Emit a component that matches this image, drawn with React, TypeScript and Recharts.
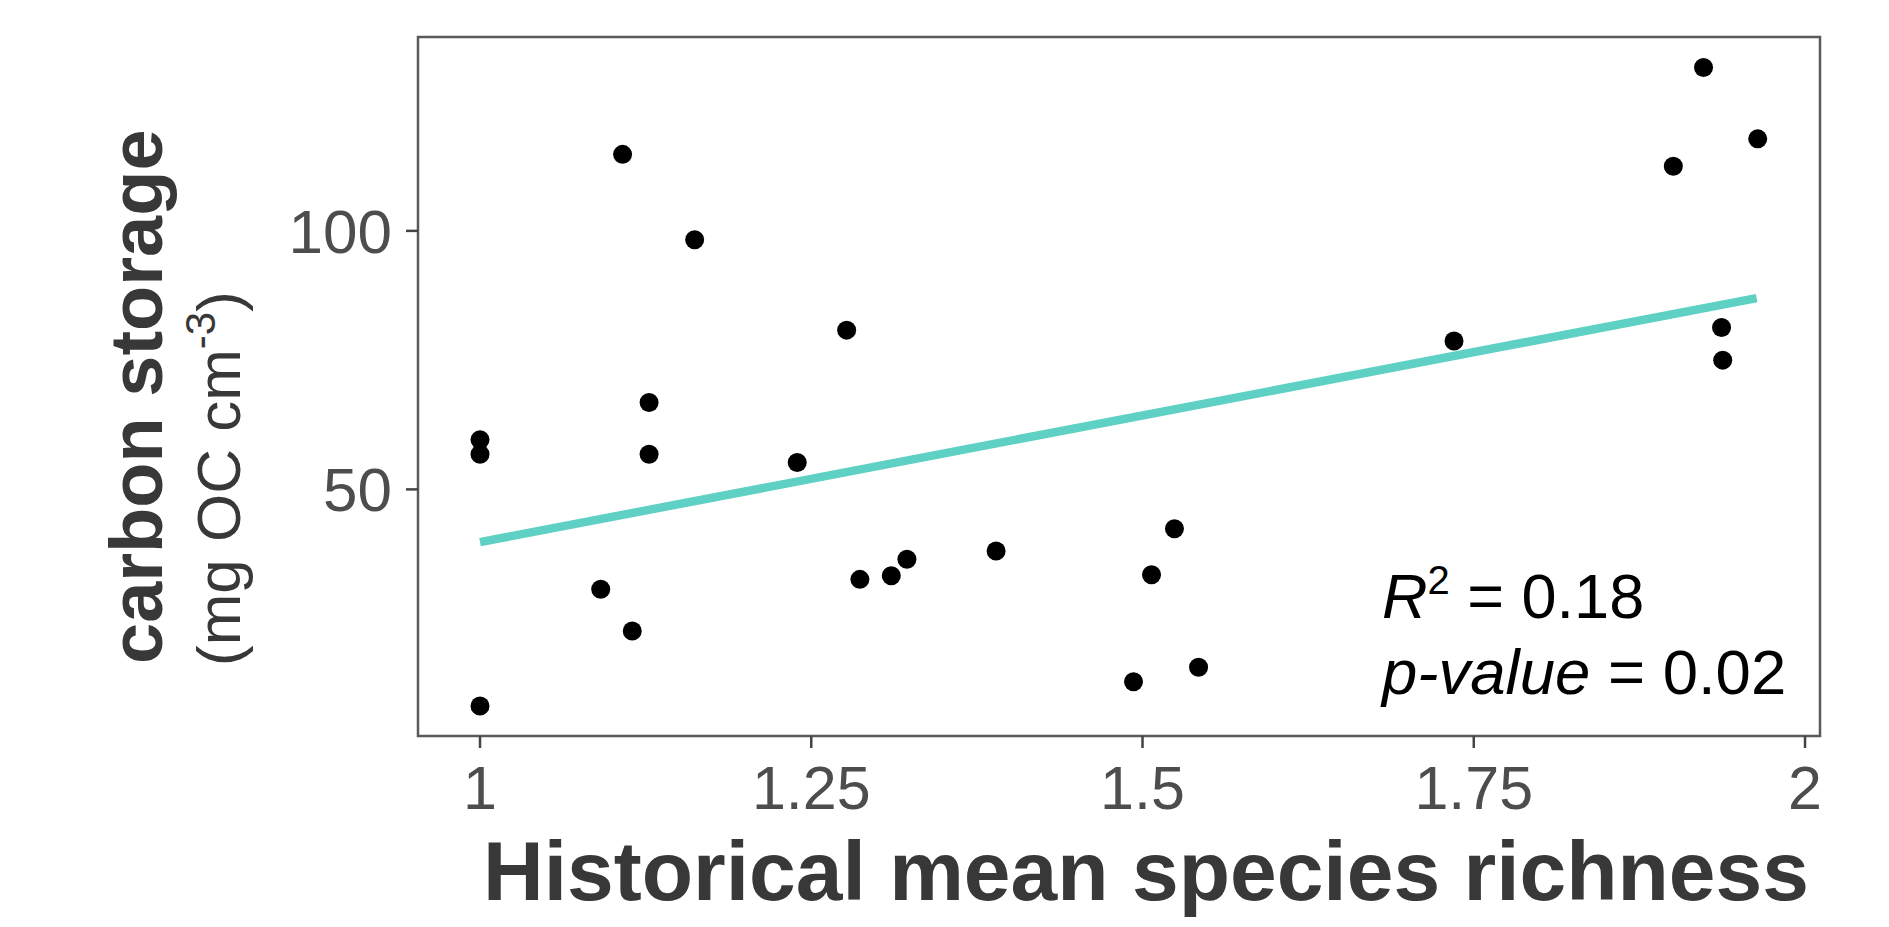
import React from 'react';
import { ScatterChart, Scatter, XAxis, YAxis, ReferenceArea } from 'recharts';

const richness = [1.0, 1.0, 1.0, 1.1076, 1.162, 1.1276, 1.1276, 1.0911, 1.1149, 1.2767, 1.2394, 1.2867, 1.3104, 1.3222, 1.3895, 1.4932, 1.5068, 1.5241, 1.5423, 1.7351, 1.9006, 1.9234, 1.9643, 1.937, 1.9379];
const carbon = [59.6, 56.8, 8.1, 114.8, 98.3, 66.8, 56.8, 30.7, 22.6, 80.8, 55.2, 32.6, 33.3, 36.5, 38.1, 12.8, 33.5, 42.4, 15.6, 78.7, 112.5, 131.6, 117.8, 81.3, 75.0];
const fitX = [1.0, 1.9635];
const fitY = [39.8, 87.0];
const xTicks = [1, 1.25, 1.5, 1.75, 2];
const yTicks = [50, 100];
const xDomain = [0.9532, 2.0113];
const yDomain = [2.3, 137.5];

const points = richness.map((x, i) => ({ x, y: carbon[i] }));
const fitLine = fitX.map((x, i) => ({ x, y: fitY[i] }));

const FONT = "'Liberation Sans', Arial, Helvetica, sans-serif";
const W = 1873;
const H = 911;

const Dot = (props: any) => <circle cx={props.cx} cy={props.cy} r={9.5} fill="#000000" />;
const NoDot = () => <g />;

export default function App() {
  return (
    <div style={{ position: 'relative', width: W, height: H }}>
      <ScatterChart width={W} height={H} margin={{ top: 29, right: 61, bottom: 83, left: 300 }}>
        <XAxis
          type="number"
          dataKey="x"
          domain={xDomain}
          allowDataOverflow
          ticks={xTicks}
          interval={0}
          axisLine={false}
          tickSize={12}
          tickMargin={18}
          height={100}
          tickLine={{ stroke: '#444', strokeWidth: 2.5 }}
          tick={{ fill: '#4d4d4d', fontSize: 61, fontFamily: FONT }}
        />
        <YAxis
          type="number"
          dataKey="y"
          domain={yDomain}
          allowDataOverflow
          ticks={yTicks}
          interval={0}
          axisLine={false}
          tickSize={12}
          tickMargin={14}
          width={110}
          tickLine={{ stroke: '#444', strokeWidth: 2.5 }}
          tick={{ fill: '#4d4d4d', fontSize: 62, fontFamily: FONT }}
        />
        <ReferenceArea
          x1={xDomain[0]}
          x2={xDomain[1]}
          y1={yDomain[0]}
          y2={yDomain[1]}
          fill="none"
          fillOpacity={0}
          stroke="#5a5a5a"
          strokeWidth={2.5}
          ifOverflow="extendDomain"
        />
        <Scatter
          data={fitLine}
          line={{ stroke: '#5fd1c4', strokeWidth: 8.5 }}
          shape={NoDot}
          isAnimationActive={false}
          legendType="none"
        />
        <Scatter data={points} shape={Dot} fill="#000" isAnimationActive={false} />
      </ScatterChart>
      <svg
        width={W}
        height={H}
        style={{ position: 'absolute', left: 0, top: 0, pointerEvents: 'none' }}
      >
        <text
          x={154}
          y={656}
          transform="rotate(-90 154 656)"
          fontFamily={FONT}
          fontWeight="bold"
          fontSize={74}
          fill="#383838"
        >
          carbon storage
        </text>
        <text
          x={232}
          y={658}
          transform="rotate(-90 232 658)"
          fontFamily={FONT}
          fontSize={62}
          fill="#383838"
        >
          (mg OC cm
          <tspan dy={-25} fontSize={42}>-3</tspan>
          <tspan dy={25}>)</tspan>
        </text>
        <text
          x={1138}
          y={892}
          textAnchor="middle"
          fontFamily={FONT}
          fontWeight="bold"
          fontSize={84}
          fill="#383838"
        >
          Historical mean species richness
        </text>
        <text x={1374} y={610} fontFamily={FONT} fontSize={63} fill="#000">
          <tspan fontStyle="italic">R</tspan>
          <tspan dy={-24} fontSize={40}>2</tspan>
          <tspan dy={24}> = 0.18</tspan>
        </text>
        <text x={1374} y={686} fontFamily={FONT} fontSize={63.5} fill="#000">
          <tspan fontStyle="italic">p-value</tspan>
          <tspan> = 0.02</tspan>
        </text>
      </svg>
    </div>
  );
}
